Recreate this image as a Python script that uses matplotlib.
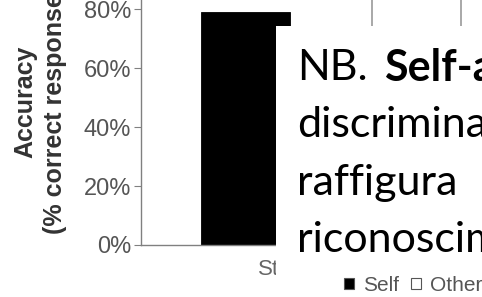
import matplotlib.pyplot as plt
from matplotlib.patches import Patch, Rectangle
from matplotlib.ticker import PercentFormatter

# bar data (one group, partly hidden by the note box)
group_label = "Stranger"
series = ["Self", "Other"]
values = [0.79, 0.88]
bar_colors = ["black", "white"]

yticks = [0, 0.2, 0.4, 0.6, 0.8]

note_lines = ["discriminazione", "raffigura", "riconoscimento"]

fig = plt.figure(figsize=(4.82, 2.97), dpi=100)
ax = fig.add_axes([0.2925, 0.1751, 0.7075, 0.963])

ax.bar(0.568, values[1], width=0.4, align="edge", color=bar_colors[1], edgecolor="#999999", linewidth=1.2)
ax.bar(-0.2, values[0], width=0.4, align="edge", color=bar_colors[0], edgecolor="black", linewidth=0.6)

ax.set_xlim(-0.47, 1.063)
ax.set_ylim(0, 0.97)
ax.set_yticks(yticks)
ax.yaxis.set_major_formatter(PercentFormatter(1.0, decimals=0))
ax.set_xticks([0.25])
ax.set_xticklabels([group_label])

for s in ["top", "right"]:
    ax.spines[s].set_visible(False)
for s in ["left", "bottom"]:
    ax.spines[s].set_color("#808080")
    ax.spines[s].set_linewidth(1.0)
ax.tick_params(axis="y", colors="#808080", labelcolor="#555555", labelsize=17, length=5, pad=2)
ax.tick_params(axis="x", length=0, labelcolor="#666666", labelsize=16, pad=10)
for lab in ax.get_yticklabels() + ax.get_xticklabels():
    lab.set_family("Liberation Sans")

fig.text(25 / 482, 1 - 102 / 297, "Accuracy", rotation=90, ha="center", va="center",
         fontsize=18, fontweight="bold", color="#333333", family="Liberation Sans")
fig.text(55 / 482, 1 - 102 / 297, "(% correct responses)", rotation=90, ha="center", va="center",
         fontsize=18, fontweight="bold", color="#333333", family="Liberation Sans")

# white note box over the chart
fig.patches.append(Rectangle((276 / 482, 1 - 282 / 297), 1, 256 / 297,
                             transform=fig.transFigure, facecolor="white", edgecolor="none", zorder=2))

x0 = 297 / 482
fig.text(x0, 1 - 80 / 297, "NB.", fontsize=31, family="Lato", va="baseline", zorder=3)
fig.text(384 / 482, 1 - 80 / 297, "Self-advantage", fontsize=31, family="Lato",
         fontweight="bold", va="baseline", zorder=3)
for i, line in enumerate(note_lines):
    fig.text(x0, 1 - (137 + i * 57.5) / 297, line, fontsize=31, family="Lato", va="baseline", zorder=3)

handles = [Patch(facecolor=c, edgecolor="#555555", linewidth=0.8) for c in bar_colors]
leg = fig.legend(handles, series, loc="lower right", bbox_to_anchor=(1.04, -0.055), ncol=2,
                 frameon=False, handlelength=0.45, handleheight=0.45,
                 handletextpad=0.45, columnspacing=0.6, prop={"family": "Liberation Sans", "size": 15})
leg.set_zorder(5)
for t in leg.get_texts():
    t.set_color("#555555")

fig.savefig("out.png", dpi=100)
